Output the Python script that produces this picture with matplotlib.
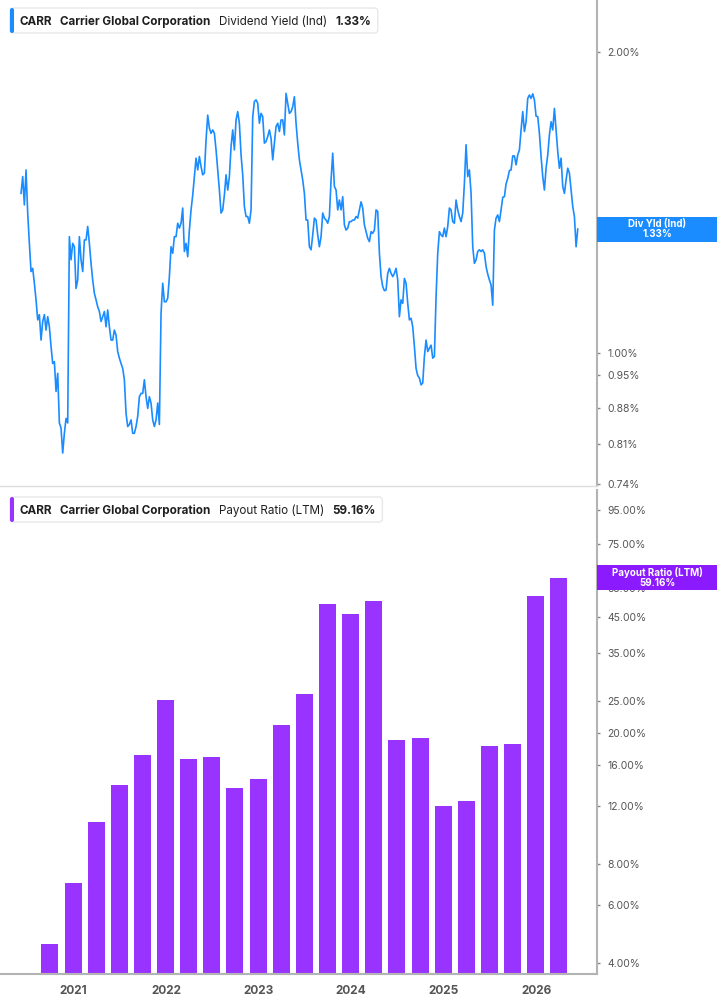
import numpy as np
import pandas as pd
import matplotlib
matplotlib.use("Agg")
import matplotlib.pyplot as plt
from matplotlib.patches import Rectangle, FancyBboxPatch
from matplotlib.transforms import IdentityTransform

plt.rcParams['font.family'] = ['Inter', 'DejaVu Sans']

symbol = "CARR"
company = "Carrier Global Corporation"

# dividend yield (%), read off the chart roughly weekly
yield_values = [
    1.444, 1.501, 1.406, 1.524, 1.380, 1.287, 1.206, 1.215, 1.174, 1.130,
    1.079, 1.092, 1.030, 1.075, 1.092, 1.054, 1.087, 1.062, 1.015, 0.976,
    0.980, 0.915, 0.954, 0.851, 0.841, 0.794, 0.831, 0.860, 0.851, 1.307,
    1.239, 1.287, 1.277, 1.160, 1.183, 1.307, 1.239, 1.206, 1.297, 1.297,
    1.338, 1.287, 1.229, 1.183, 1.147, 1.130, 1.112, 1.100, 1.075, 1.087,
    1.100, 1.062, 1.104, 1.062, 1.030, 1.030, 1.054, 1.042, 1.003, 0.988,
    0.976, 0.965, 0.940, 0.870, 0.844, 0.848, 0.857, 0.831, 0.831, 0.844,
    0.864, 0.904, 0.911, 0.911, 0.940, 0.904, 0.880, 0.904, 0.891, 0.857,
    0.844, 0.857, 0.891, 0.848, 1.096, 1.174, 1.125, 1.125, 1.134, 1.192,
    1.277, 1.258, 1.307, 1.307, 1.348, 1.333, 1.348, 1.396, 1.263, 1.287,
    1.248, 1.327, 1.390, 1.438, 1.501, 1.566, 1.524, 1.572, 1.536, 1.507,
    1.513, 1.633, 1.729, 1.678, 1.658, 1.671, 1.658, 1.596, 1.524, 1.455,
    1.380, 1.390, 1.438, 1.507, 1.455, 1.501, 1.608, 1.671, 1.596, 1.710,
    1.743, 1.697, 1.578, 1.507, 1.401, 1.369, 1.369, 1.348, 1.390, 1.723,
    1.784, 1.791, 1.777, 1.697, 1.736, 1.723, 1.621, 1.627, 1.646, 1.671,
    1.639, 1.560, 1.621, 1.684, 1.697, 1.665, 1.710, 1.710, 1.652, 1.818,
    1.777, 1.736, 1.743, 1.763, 1.804, 1.697, 1.621, 1.560,
    1.524, 1.489, 1.444, 1.358, 1.358, 1.277, 1.268, 1.312, 1.364, 1.358,
    1.312, 1.277, 1.307, 1.380, 1.364, 1.358, 1.348, 1.369, 1.489, 1.584,
    1.467, 1.455, 1.390, 1.422, 1.390, 1.433, 1.343, 1.327, 1.333, 1.353,
    1.353, 1.358, 1.358, 1.369, 1.364, 1.390, 1.416, 1.396, 1.343, 1.322,
    1.302, 1.292, 1.322, 1.317, 1.327, 1.390, 1.385, 1.258, 1.192, 1.165,
    1.154, 1.156, 1.201, 1.215, 1.201, 1.192, 1.201, 1.215, 1.183, 1.087,
    1.130, 1.121, 1.187, 1.174, 1.121, 1.079, 1.083, 1.062, 1.015, 0.965,
    0.949, 0.944, 0.929, 0.933, 0.992, 1.030, 1.003, 1.011, 1.018, 0.988,
    0.992, 1.138, 1.258, 1.322, 1.312, 1.307, 1.333, 1.307, 1.338, 1.396,
    1.390, 1.353, 1.348, 1.422, 1.390, 1.369, 1.353, 1.380, 1.478, 1.615,
    1.501, 1.524, 1.444, 1.277, 1.229, 1.239, 1.263, 1.268, 1.263, 1.268,
    1.258, 1.220, 1.199, 1.183, 1.169, 1.116, 1.327, 1.364, 1.374, 1.353,
    1.390, 1.431, 1.433, 1.476, 1.495, 1.522, 1.524, 1.574, 1.574, 1.542,
    1.578, 1.596, 1.671, 1.743, 1.665, 1.703, 1.797, 1.811, 1.797, 1.816,
    1.791, 1.725, 1.723, 1.658, 1.572, 1.501, 1.455, 1.530, 1.578, 1.652,
    1.703, 1.671, 1.756, 1.671, 1.590, 1.530, 1.566, 1.467, 1.444, 1.489,
    1.530, 1.513, 1.455, 1.401, 1.369, 1.277, 1.330,
]
yield_dates = pd.date_range("2020-06-08", "2026-06-14", periods=len(yield_values))

# payout ratio LTM (%), quarterly
payout_dates = pd.date_range("2020-09-30", periods=23, freq="QE")
payout_values = [4.57, 7.0, 10.7, 13.9, 17.1, 25.2, 16.7, 16.9, 13.6, 14.5,
                 21.1, 26.2, 49.2, 45.9, 50.3, 19.0, 19.3, 12.0, 12.4, 18.2,
                 18.5, 52.1, 59.16]

yield_ticks = [2.00, 1.00, 0.95, 0.88, 0.81, 0.74]
payout_ticks = [95, 75, 55, 45, 35, 25, 20, 16, 12, 8, 6, 4]
years = [2021, 2022, 2023, 2024, 2025, 2026]

blue = '#1a8cff'
purple = '#9933ff'
purple_tag = '#8c1aff'
grey_txt = '#555555'

W, H = 717, 1005
fig = plt.figure(figsize=(W / 100, H / 100), dpi=100)
ax1 = fig.add_axes([0, 1 - 486 / H, 597 / W, 486 / H])
ax2 = fig.add_axes([0, 1 - 974 / H, 597 / W, 484 / H])

xlim = (pd.Timestamp("2020-03-17"), pd.Timestamp("2026-08-29"))

ax1.plot(yield_dates, yield_values, color=blue, lw=1.2)
ax1.set_yscale('log')
ax1.set_ylim(0.736, 2.254)

ax2.set_yscale('log', nonpositive='clip')
ax2.bar(payout_dates, payout_values, width=67, color=purple)
ax2.set_ylim(3.70, 109.3)

for ax, ticks in [(ax1, yield_ticks), (ax2, payout_ticks)]:
    ax.set_xlim(xlim)
    ax.yaxis.tick_right()
    ax.set_yticks(ticks)
    ax.set_yticklabels(["{:.2f}%".format(t) for t in ticks])
    ax.minorticks_off()
    ax.tick_params(axis='y', length=2.5, width=1, color='#888888', labelsize=7.5,
                   labelcolor=grey_txt, pad=5)
    ax.spines['left'].set_visible(False)
    ax.spines['top'].set_visible(False)
    ax.spines['right'].set_color('#b3b3b3')
    ax.spines['right'].set_linewidth(1.5)
    ax.patch.set_alpha(0)

ax1.spines['bottom'].set_color('#dddddd')
ax1.spines['bottom'].set_linewidth(1)
ax1.tick_params(axis='x', bottom=False, labelbottom=False)

ax2.spines['bottom'].set_color('#b3b3b3')
ax2.spines['bottom'].set_linewidth(1.5)
ax2.set_xticks([pd.Timestamp(f"{y}-01-01") for y in years])
ax2.set_xticklabels([str(y) for y in years])
ax2.tick_params(axis='x', length=0, labelsize=8.5, labelcolor=grey_txt, pad=8)
for lbl in ax2.get_xticklabels():
    lbl.set_fontweight('bold')

renderer = fig.canvas.get_renderer()
ident = IdentityTransform()


def value_tag(ax, value, lines, color):
    y = ax.transData.transform((0, value))[1]
    x0 = ax.transAxes.transform((1, 0))[0]
    fig.add_artist(Rectangle((x0, y - 12.5), W - x0, 25, transform=ident,
                             facecolor=color, edgecolor='none', zorder=10))
    fig.text(x0 + 60, y, lines, transform=ident, ha='center', va='center',
             multialignment='center', color='white', fontsize=7,
             fontweight='bold', linespacing=1.0, zorder=11)


def legend_box(top_px, accent, pieces):
    h = 25
    y0 = H - top_px - h
    x = 20
    last = None
    for s, bold in pieces:
        t = fig.text(x, y0 + h / 2, s, transform=ident, fontsize=8.4,
                     fontweight='bold' if bold else 'normal', color='#1f1f1f',
                     va='center_baseline', zorder=6)
        last = t.get_window_extent(renderer)
        x = last.x1 + 8
    right = last.x1 + 7
    fig.add_artist(FancyBboxPatch((10, y0), right - 10, h,
                                  boxstyle="round,pad=0,rounding_size=3",
                                  transform=ident, facecolor='white',
                                  edgecolor='#e8e8e8', lw=1, zorder=4))
    fig.add_artist(FancyBboxPatch((10, y0), 4, h,
                                  boxstyle="round,pad=0,rounding_size=2",
                                  transform=ident, facecolor=accent,
                                  edgecolor='none', zorder=5))


value_tag(ax1, yield_values[-1], "Div Yld (Ind)\n{:.2f}%".format(yield_values[-1]), blue)
value_tag(ax2, payout_values[-1], "Payout Ratio (LTM)\n{:.2f}%".format(payout_values[-1]), purple_tag)

legend_box(8, blue, [(symbol, True), (company, True),
                     ("Dividend Yield (Ind)", False),
                     ("{:.2f}%".format(yield_values[-1]), True)])
legend_box(497, purple, [(symbol, True), (company, True),
                         ("Payout Ratio (LTM)", False),
                         ("{:.2f}%".format(payout_values[-1]), True)])

fig.savefig("out.png", dpi=100)
